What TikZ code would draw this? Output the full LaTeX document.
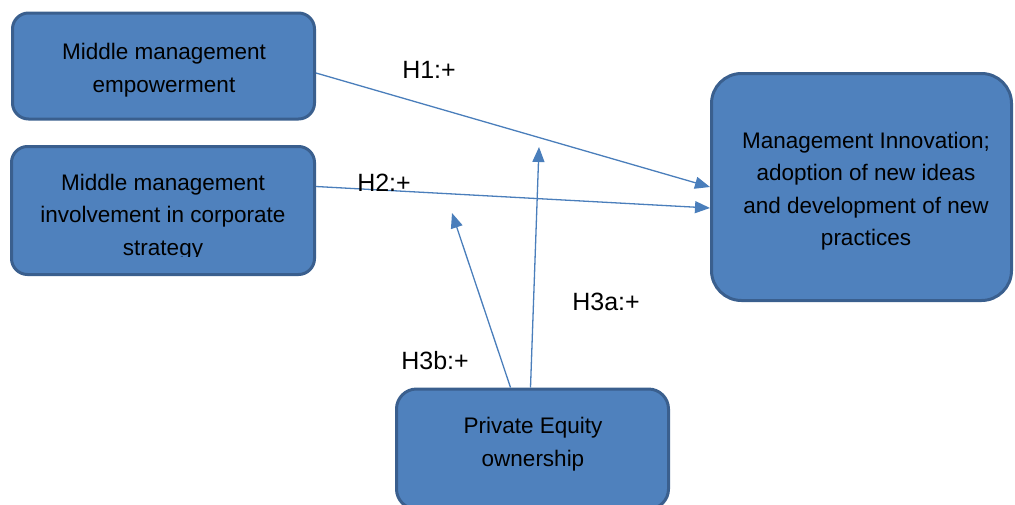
\documentclass[tikz,border=0pt]{standalone}
\usepackage{fontspec}
\setmainfont{Liberation Sans}
\usetikzlibrary{arrows.meta}
\definecolor{boxfill}{HTML}{4F81BD}
\definecolor{boxline}{HTML}{3A5F8E}
\definecolor{arrowcol}{HTML}{4A7EBB}
\begin{document}
\begin{tikzpicture}[x=1pt,y=-1pt,
  box/.style={draw=boxline, fill=boxfill, line width=3pt, rounded corners=16pt, inner sep=0pt},
  boxtext/.style={align=center, font=\fontsize{22.5}{32.5}\selectfont, text=black, inner sep=0pt},
  link/.style={draw=arrowcol, line width=1.3pt, -{Triangle[length=15pt,width=12pt]}},
  lab/.style={font=\fontsize{25}{30}\selectfont, text=black, inner sep=0pt}]
\useasboundingbox (0,0) rectangle (1015,504);
% boxes
\node[box, minimum width=302pt, minimum height=106pt] (b1) at (163.5,66) {};
\node[box, minimum width=303pt, minimum height=128pt] (b2) at (163,210.5) {};
\node[box, rounded corners=30pt, minimum width=300pt, minimum height=227pt] (b3) at (861.5,187) {};
\node[box, rounded corners=20pt, minimum width=272pt, minimum height=120pt] (b4) at (532.5,449) {};
% texts
\node[boxtext] (t1) at (164,70) {Middle management\\empowerment};
\begin{scope}
  \clip (10,145) rectangle (316,256);
  \node[boxtext] (t2) at (163,217) {Middle management\\involvement in corporate\\strategy};
\end{scope}
\node[boxtext] (t3) at (866,191) {Management Innovation;\\adoption of new ideas\\and development of new\\practices};
\node[boxtext] (t4) at (533,444) {Private Equity\\ownership};
% free ends
\coordinate (e3a) at (539,147);
\coordinate (e3b) at (452,213);
% connectors
\draw[link] ([yshift=-7pt]b1.east) -- (b3.west);
\draw[link] ([yshift=24pt]b2.east) -- ([yshift=-21pt]b3.west);
\draw[link] ([xshift=-2pt]b4.north) -- (e3a);
\draw[link] ([xshift=-22pt]b4.north) -- (e3b);
% labels
\node[lab] (l1) at (429,70) {H1:+};
\node[lab] (l2) at (384,183) {H2:+};
\node[lab] (l3) at (606,302) {H3a:+};
\node[lab] (l4) at (435,361) {H3b:+};
\end{tikzpicture}
\end{document}
